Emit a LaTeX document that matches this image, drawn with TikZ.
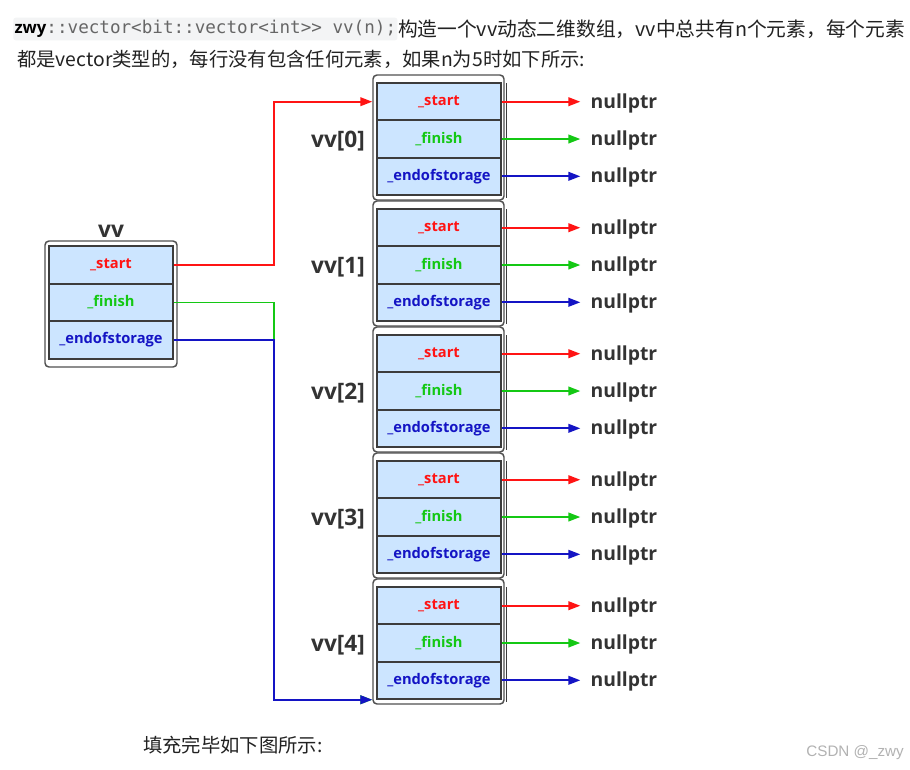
\documentclass[tikz,border=0pt]{standalone}
\usepackage{fontspec}
\setmainfont{Open Sans}
\newfontfamily\cjk{Noto Sans CJK SC}
\newfontfamily\codefont{DejaVu Sans Mono}
\newfontfamily\wmfont{Liberation Sans}
\usetikzlibrary{arrows.meta,calc}
\definecolor{cellfill}{HTML}{CCE5FF}
\definecolor{cellline}{HTML}{3C3C3C}
\definecolor{boxline}{HTML}{505050}
\definecolor{cred}{HTML}{FF1414}
\definecolor{cgreen}{HTML}{14C814}
\definecolor{cblue}{HTML}{1414C4}
\definecolor{txtgray}{HTML}{333333}
\definecolor{hdrtext}{HTML}{222222}
\definecolor{codegray}{HTML}{666666}
\definecolor{codebg}{HTML}{F3F4F5}
\begin{document}
\begin{tikzpicture}[x=0.75pt,y=-0.75pt,
  cell/.style={draw=cellline, line width=1.5pt, fill=cellfill, minimum width=93pt,
    minimum height=28pt, inner sep=0pt, font=\bfseries\fontsize{11}{12}\selectfont},
  outerbox/.style={draw=boxline, line width=1.1pt, rounded corners=3pt, fill=white,
    minimum width=98.25pt, minimum height=93.75pt, inner sep=0pt},
  nullp/.style={font=\bfseries\fontsize{14.5}{16}\selectfont, text=txtgray, anchor=west, inner sep=1pt},
  lbl/.style={font=\bfseries\fontsize{17}{20}\selectfont, text=txtgray, inner sep=0pt},
  arr/.style={line width=1.4pt, -{Triangle[length=9pt,width=6.5pt]}},
  tonull/.style={arr, shorten >=6.5pt},
  shadowline/.style={draw=cellline, line width=0.8pt},
  hdr/.style={font=\cjk\fontsize{14.5}{17}\selectfont, text=hdrtext, inner sep=0pt, anchor=west}
]
\useasboundingbox (0,0) rectangle (910,769);
\fill[white] (0,0) rectangle (910,769);

% header
\node[fill=codebg, rounded corners=2pt, anchor=west, inner xsep=1pt, inner ysep=2pt] (code) at (13,29)
  {{\bfseries\fontsize{12.5}{14}\selectfont\color{black}zwy}{\codefont\fontsize{13.2}{14}\selectfont\color{codegray}::vector<bit::vector<int>> vv(n);}};
\node[hdr, font=\cjk\fontsize{14.8}{17}\selectfont] (line1) at (code.east) {构造一个vv动态二维数组，vv中总共有n个元素，每个元素};
\node[hdr] (line2) at (17,59) {都是vector类型的，每行没有包含任何元素，如果n为5时如下所示:};

% vv box
\node[outerbox, minimum width=99pt, minimum height=94.5pt] (vvo) at (111,304) {};
\node[cell, minimum height=28.3pt, text=cred] (vs) at (111,265) {\_start};
\node[cell, minimum height=28.3pt, text=cgreen] (vf) at (111,302.5) {\_finish};
\node[cell, minimum height=28.3pt, text=cblue] (ve) at (111,340) {\_endofstorage};
\node[lbl] (vvl) at (111,231) {vv};

% blocks
\foreach \i in {0,...,4}{
  \pgfmathsetmacro\T{83+126*\i}
  \node[outerbox] (o\i) at (438.5,\T+54.5) {};
  \draw[shadowline] ($(o\i.north east)+(1.5,9)$) -- ($(o\i.south east)+(1.5,-3)$);
  \node[cell, text=cred] (s\i) at (439,\T+18.7) {\_start};
  \node[cell, text=cgreen] (f\i) at (439,\T+56) {\_finish};
  \node[cell, text=cblue] (e\i) at (439,\T+93.3) {\_endofstorage};
  \node[lbl] (l\i) at (338,\T+58) {vv[\i]};
  \node[nullp] (ns\i) at (589,\T+20) {nullptr};
  \node[nullp] (nf\i) at (589,\T+57.3) {nullptr};
  \node[nullp] (ne\i) at (589,\T+94.6) {nullptr};
  \draw[tonull, cred] (s\i.east) -- (s\i.east -| ns\i.west);
  \draw[tonull, cgreen] (f\i.east) -- (f\i.east -| nf\i.west);
  \draw[tonull, cblue] (e\i.east) -- (e\i.east -| ne\i.west);
}

% connectors from vv
\coordinate (rk) at (274,0);
\coordinate (endpt) at ($(o4.south west)+(0,-5)$);
\draw[arr, cred] (vs.east) -| (rk |- s0) -- (o0.west |- s0);
\draw[arr, cgreen] (vf.east) -| (rk |- endpt) -- (endpt);
\draw[arr, cblue] (ve.east) -| (rk |- endpt) -- (endpt);

% footer
\node[hdr] (foot) at (143,745) {填充完毕如下图所示:};
\node[anchor=east, text=gray!60, inner sep=0pt, font=\wmfont\fontsize{11.4}{13}\selectfont] (wm) at (904,753) {CSDN @\_zwy};
\end{tikzpicture}
\end{document}
